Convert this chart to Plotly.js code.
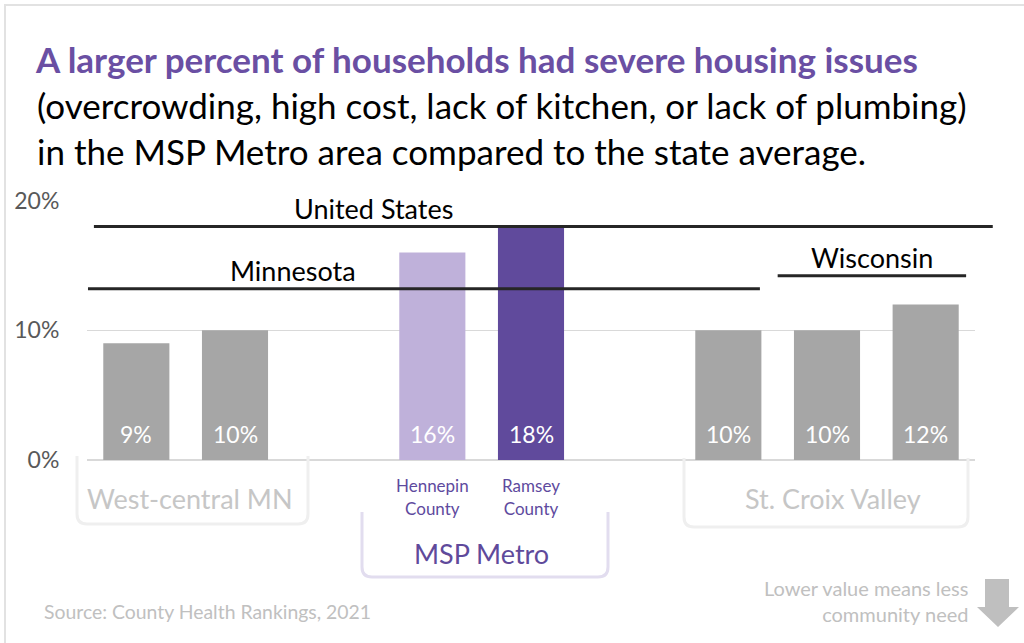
<!DOCTYPE html>
<html>
<head>
<meta charset="utf-8">
<script src="https://cdn.plot.ly/plotly-3.0.1.min.js"></script>
<style>
html,body{margin:0;padding:0;background:#fff;overflow:hidden;}
#chart{width:1024px;height:643px;position:absolute;left:0;top:0;}
#frame{position:absolute;left:4px;top:4px;width:1100px;height:800px;border:2px solid #e2e2e2;pointer-events:none;}
</style>
</head>
<body>
<div id="chart"></div>
<div id="frame"></div>
<script>
// ---- data ----
const slots = [0, 1, 2, 3, 4, 5, 6, 7, 8];
const slotLabels = ['', '', '', 'Hennepin<br>County', 'Ramsey<br>County', '', '', '', ''];
const values = [9, 10, null, 16, 18, null, 10, 10, 12];
const valueLabels = ['9%', '10%', '', '16%', '18%', '', '10%', '10%', '12%'];
const refNames = ['United States', 'Minnesota', 'Wisconsin'];
const refValues = [18, 13.2, 14.2];
const groupNames = ['West-central MN', 'MSP Metro', 'St. Croix Valley'];
const yTickVals = [0, 10, 20];
const yTickText = ['0%', '10%', '20%'];
const titleLines = [
  'A larger percent of households had severe housing issues',
  '(overcrowding, high cost, lack of kitchen, or lack of plumbing)',
  'in the MSP Metro area compared to the state average.'
];
const sourceText = 'Source: County Health Rankings, 2021';
const noteLines = ['Lower value means less', 'community need'];

// ---- styling ----
const FONT = 'Lato, "Open Sans", sans-serif';
const barColors = ['#a6a6a6', '#a6a6a6', '#a6a6a6', '#bfb1da', '#604a9c', '#a6a6a6', '#a6a6a6', '#a6a6a6', '#a6a6a6'];
const refExtent = [[-0.43, 8.68], [-0.49, 6.32], [6.5, 8.41]];
const refLabelX = [2.4, 1.59, 7.46];
const ML = 87, MR = 49, MT = 200, MB = 183, WIDTH = 1024, HEIGHT = 643;
const PW = WIDTH - ML - MR, PH = HEIGHT - MT - MB;
const px = p => (p - ML) / PW;
const py = p => (HEIGHT - MB - p) / PH;
const slotPaper = s => (s + 0.5) / slots.length;

function bracket(x0, x1, yTop, yBot, r) {
  return 'M ' + px(x0) + ',' + py(yTop) +
    ' L ' + px(x0) + ',' + py(yBot - r) +
    ' Q ' + px(x0) + ',' + py(yBot) + ' ' + px(x0 + r) + ',' + py(yBot) +
    ' L ' + px(x1 - r) + ',' + py(yBot) +
    ' Q ' + px(x1) + ',' + py(yBot) + ' ' + px(x1) + ',' + py(yBot - r) +
    ' L ' + px(x1) + ',' + py(yTop);
}

const shapes = [];
shapes.push({type: 'path', xref: 'paper', yref: 'paper', path: bracket(77, 308, 456, 524, 10), line: {color: '#efefef', width: 3}});
shapes.push({type: 'path', xref: 'paper', yref: 'paper', path: bracket(362, 608, 512, 577, 10), line: {color: '#e2ddef', width: 3}});
shapes.push({type: 'path', xref: 'paper', yref: 'paper', path: bracket(684, 968, 458, 527, 10), line: {color: '#efefef', width: 3}});
// arrow
shapes.push({type: 'path', xref: 'paper', yref: 'paper',
  path: 'M ' + px(985) + ',' + py(579) + ' L ' + px(1009) + ',' + py(579) + ' L ' + px(1009) + ',' + py(607) +
        ' L ' + px(1019) + ',' + py(607) + ' L ' + px(998) + ',' + py(627) + ' L ' + px(977) + ',' + py(607) +
        ' L ' + px(985) + ',' + py(607) + ' Z',
  fillcolor: '#bfbfbf', line: {width: 0}});
refValues.forEach((v, i) => {
  shapes.push({type: 'line', xref: 'paper', yref: 'y', layer: 'above',
    x0: slotPaper(refExtent[i][0]), x1: slotPaper(refExtent[i][1]), y0: v, y1: v,
    line: {color: '#262626', width: 3}});
});

const annotations = [];
// title lines
const titleY = [59, 105, 151];
titleLines.forEach((t, i) => {
  annotations.push({xref: 'paper', yref: 'paper', x: px(i === 0 ? 33 : 35), y: py(titleY[i]), xanchor: 'left', yanchor: 'middle',
    showarrow: false, text: i === 0 ? '<b>' + t + '</b>' : t,
    font: {family: FONT, size: 35, color: i === 0 ? '#6a4fa3' : '#000000'}});
});
// value labels
slots.forEach((s, i) => {
  if (values[i] === null) return;
  annotations.push({x: s, y: 0, xref: 'x', yref: 'y', xanchor: 'center', yanchor: 'middle', yshift: 26, showarrow: false,
    text: valueLabels[i], font: {family: FONT, size: 23, color: '#ffffff'}});
});
// reference labels
refNames.forEach((n, i) => {
  annotations.push({xref: 'paper', yref: 'y', x: slotPaper(refLabelX[i]), y: refValues[i], xanchor: 'center', yanchor: 'middle', yshift: 18,
    showarrow: false, text: n, font: {family: FONT, size: 27, color: '#000000'}});
});
// group labels
const groupPos = [[190, 498, '#c6c6c6'], [481, 553, '#5f4a9b'], [833, 498, '#c6c6c6']];
groupNames.forEach((g, i) => {
  annotations.push({xref: 'paper', yref: 'paper', x: px(groupPos[i][0]), y: py(groupPos[i][1]), xanchor: 'center', yanchor: 'middle',
    showarrow: false, text: g, font: {family: FONT, size: 27, color: groupPos[i][2]}});
});
annotations.push({xref: 'paper', yref: 'paper', x: px(42), y: py(611), xanchor: 'left', yanchor: 'middle',
  showarrow: false, text: sourceText, font: {family: FONT, size: 19.4, color: '#c0c0c0'}});
annotations.push({xref: 'paper', yref: 'paper', x: px(970), y: py(601), xanchor: 'right', yanchor: 'middle', align: 'right',
  showarrow: false, text: noteLines.join('<br>'), font: {family: FONT, size: 20, color: '#c0c0c0'}});

const trace = {
  type: 'bar', x: slots, y: values, width: 0.67,
  marker: {color: barColors, line: {width: 0}},
  hoverinfo: 'skip'
};

const layout = {
  width: WIDTH, height: HEIGHT,
  margin: {l: ML, r: MR, t: MT, b: MB, pad: 0},
  paper_bgcolor: '#ffffff', plot_bgcolor: '#ffffff',
  showlegend: false,
  font: {family: FONT},
  xaxis: {
    range: [-0.5, 8.5], tickmode: 'array', tickvals: slots, ticktext: slotLabels,
    showgrid: false, zeroline: false, showline: false,
    ticks: 'outside', ticklen: 11, tickcolor: 'rgba(0,0,0,0)',
    tickfont: {family: FONT, size: 17, color: '#5e4a9e'}
  },
  yaxis: {
    range: [0, 20.05], tickmode: 'array', tickvals: yTickVals, ticktext: yTickText,
    showgrid: true, gridcolor: '#d9d9d9', gridwidth: 1.5,
    zeroline: true, zerolinecolor: '#d9d9d9', zerolinewidth: 2,
    showline: false, ticks: 'outside', ticklen: 22, tickcolor: 'rgba(0,0,0,0)',
    tickfont: {family: FONT, size: 23, color: '#595959'}
  },
  shapes: shapes,
  annotations: annotations
};

Plotly.newPlot('chart', [trace], layout, {displayModeBar: false, staticPlot: true});
</script>
</body>
</html>
